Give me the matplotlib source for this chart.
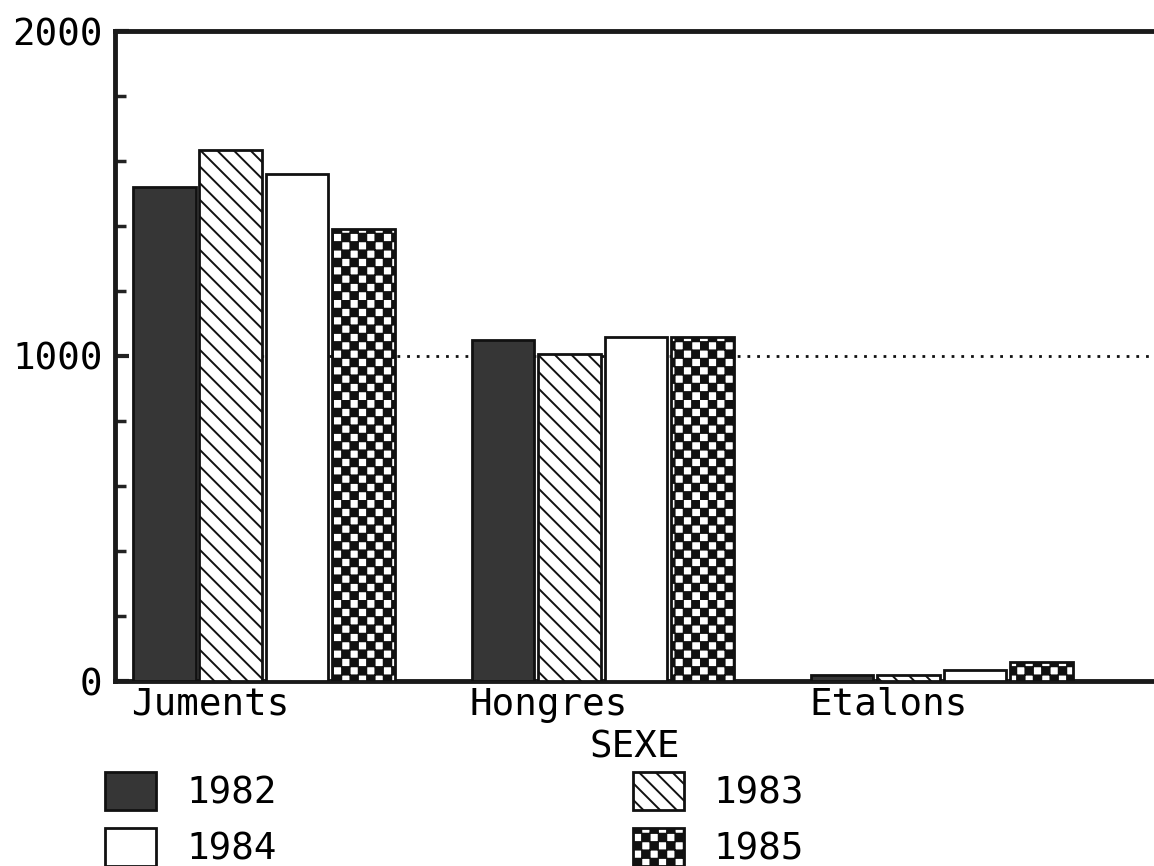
import numpy as np
import matplotlib
matplotlib.use("Agg")
import matplotlib.pyplot as plt
import matplotlib.hatch as mhatch
from matplotlib.path import Path
from matplotlib.patches import Patch

# ---- data ----
categories = ["Juments", "Hongres", "Etalons"]
years = ["1982", "1983", "1984", "1985"]
v1982 = [1520, 1050, 18]
v1983 = [1635, 1005, 18]
v1984 = [1560, 1060, 35]
v1985 = [1390, 1060, 60]
series = [v1982, v1983, v1984, v1985]
y_major = [0, 1000, 2000]
y_major_labels = ["0", "1000", "2000"]


# ---- custom checkerboard hatch ('c') ----
class CheckerHatch(mhatch.HatchPatternBase):
    def __init__(self, hatch, density):
        n = int(hatch.count('c') * density)
        if n % 2:
            n += 1
        self.n = n
        self.num_squares = (n * n) // 2 if n else 0
        self.num_vertices = self.num_squares * 5

    def set_vertices_and_codes(self, vertices, codes):
        s = 1.0 / self.n
        m = 0.004
        sq = np.array([[m, m], [s - m, m], [s - m, s - m], [m, s - m], [m, m]])
        cds = [Path.MOVETO, Path.LINETO, Path.LINETO, Path.LINETO, Path.CLOSEPOLY]
        parts = []
        for r in range(self.n):
            for c in range(self.n):
                if (r + c) % 2 == 0:
                    parts.append(sq + [c * s, r * s])
        vertices[:] = np.concatenate(parts)
        codes[:] = np.tile(cds, self.num_squares)


mhatch._hatch_types.append(CheckerHatch)
mhatch._validate_hatch_pattern = lambda hatch: None

plt.rcParams["hatch.linewidth"] = 1.4
plt.rcParams["font.family"] = ["DejaVu Sans Mono"]

styles = [
    dict(facecolor="#363636", edgecolor="#111111", hatch=None),
    dict(facecolor="white", edgecolor="#111111", hatch="\\\\"),
    dict(facecolor="white", edgecolor="#111111", hatch=None),
    dict(facecolor="white", edgecolor="#111111", hatch="cc"),
]

fig = plt.figure(figsize=(11.54, 8.66), dpi=100)
ax = fig.add_axes([115 / 1154, 1 - 681 / 866, 1 - 115 / 1154, (681 - 31) / 866])

x = np.arange(len(categories))
pitch = 0.196
width = 0.185
for i, (vals, st) in enumerate(zip(series, styles)):
    ax.bar(x + (i - 1.5) * pitch, vals, width, linewidth=2.0, zorder=3,
           label=years[i], **st)

ax.axhline(1000, color="#111111", linestyle=(0, (1, 2.5)), linewidth=2.0, zorder=1)

ax.set_ylim(0, 2000)
ax.set_xlim(-0.439, 2.626)

ax.set_yticks(y_major)
ax.set_yticklabels(y_major_labels)
ax.set_yticks(np.arange(200, 2000, 200), minor=True)
ax.tick_params(axis="y", which="both", direction="in", length=10, width=3,
               color="#222222", labelsize=27, pad=9)
ax.tick_params(axis="y", which="minor", length=8, width=2.5)

ax.set_xticks(x - 2 * pitch)
ax.set_xticklabels(categories)
for lab in ax.get_xticklabels():
    lab.set_horizontalalignment("left")
ax.tick_params(axis="x", length=0, labelsize=27, pad=4)
ax.set_xlabel("SEXE", fontsize=27, labelpad=5)

for side in ["left", "bottom", "top"]:
    ax.spines[side].set_linewidth(3.5)
    ax.spines[side].set_color("#1a1a1a")
ax.spines["right"].set_visible(False)

handles = [Patch(linewidth=2.0, **st) for st in styles]
order = [0, 2, 1, 3]
fig.legend([handles[k] for k in order], [years[k] for k in order],
           ncol=2, loc="upper left", bbox_to_anchor=(105 / 1154, 1 - 772 / 866),
           frameon=False, fontsize=27, borderpad=0, borderaxespad=0,
           handlelength=1.36, handleheight=1.2, handletextpad=0.8,
           columnspacing=9.5, labelspacing=0.42)

fig.savefig("out.png", dpi=100)
